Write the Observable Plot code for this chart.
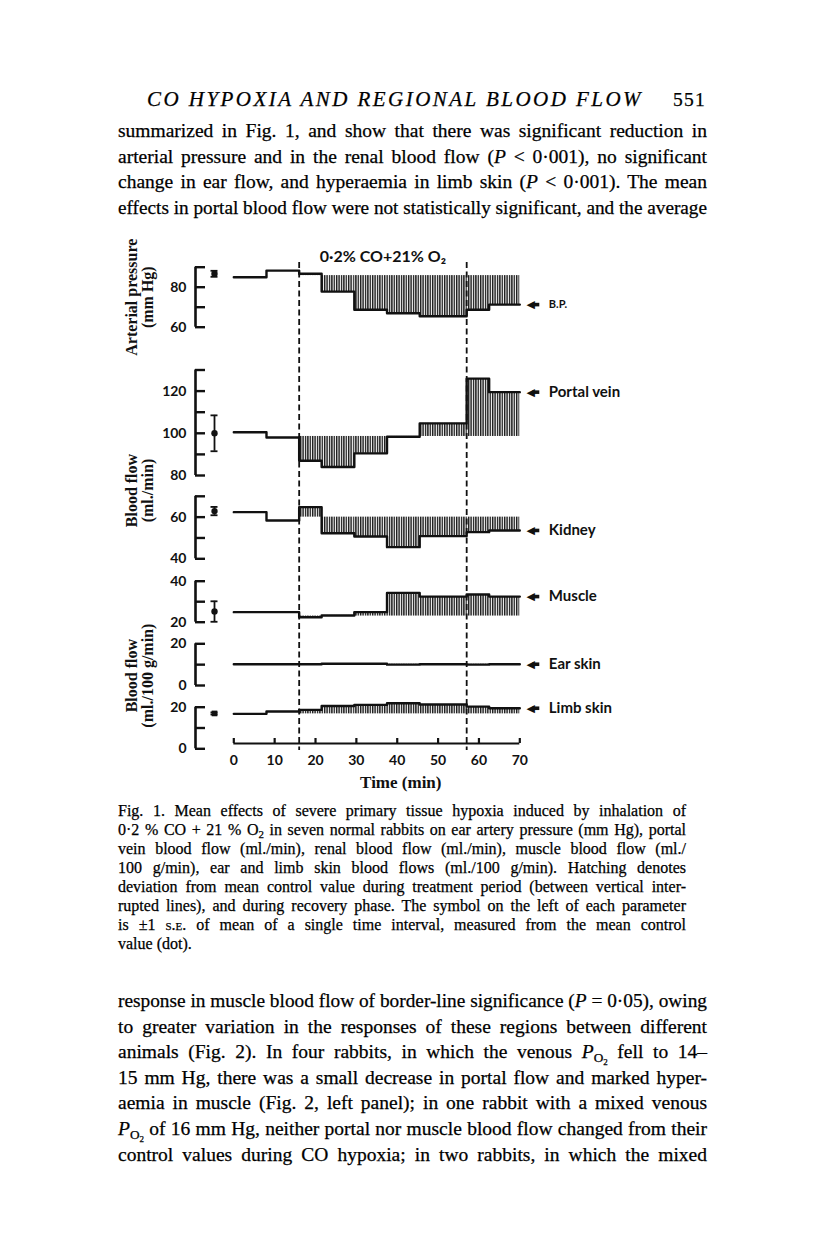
<!DOCTYPE html>
<html><head><meta charset="utf-8">
<script src="https://cdn.jsdelivr.net/npm/d3@7"></script>
<script src="https://cdn.jsdelivr.net/npm/@observablehq/plot@0.6"></script>
<style>
html,body{margin:0;padding:0;background:#fff;}
body{width:816px;height:1249px;position:relative;overflow:hidden;}
.ln{position:absolute;white-space:nowrap;font-family:"Liberation Serif",serif;color:#000;-webkit-text-stroke:0.25px #000;}
.body{font-size:19.5px;line-height:26px;height:26px;}
.cap{font-size:16px;line-height:19px;height:19px;}
.ln sub{font-size:0.68em;vertical-align:-0.28em;line-height:0;}
#chart{position:absolute;left:0;top:0;width:816px;height:800px;}
#chart svg{position:absolute;left:0;top:0;}
</style></head>
<body>
<svg width="0" height="0" style="position:absolute"><defs>
<pattern id="hatch" patternUnits="userSpaceOnUse" width="2.4" height="6"><rect x="0" y="0" width="1.4" height="6" fill="#1a1a1a"/></pattern>
</defs></svg>

<div class="ln body" data-w="496" data-mode="letter" style="left:147px;top:86px;font-size:21px"><span style="font-style:italic">CO HYPOXIA AND REGIONAL BLOOD FLOW</span></div>
<div class="ln body" data-w="33" data-mode="letter" style="left:673px;top:87px"><span>551</span></div>

<div class="ln body" data-w="589" style="left:118px;top:118px"><span>summarized in Fig. 1, and show that there was significant reduction in</span></div>
<div class="ln body" data-w="589" style="left:118px;top:144px"><span>arterial pressure and in the renal blood flow (<i>P</i> &lt; 0·001), no significant</span></div>
<div class="ln body" data-w="589" style="left:118px;top:169px"><span>change in ear flow, and hyperaemia in limb skin (<i>P</i> &lt; 0·001). The mean</span></div>
<div class="ln body" data-w="589" style="left:118px;top:195px"><span>effects in portal blood flow were not statistically significant, and the average</span></div>

<div id="chart"></div>

<div class="ln cap" data-w="568" style="left:118px;top:800.5px"><span>Fig. 1. Mean effects of severe primary tissue hypoxia induced by inhalation of</span></div>
<div class="ln cap" data-w="568" style="left:118px;top:819.6px"><span>0·2 % CO + 21 % O<sub>2</sub> in seven normal rabbits on ear artery pressure (mm Hg), portal</span></div>
<div class="ln cap" data-w="568" style="left:118px;top:838.7px"><span>vein blood flow (ml./min), renal blood flow (ml./min), muscle blood flow (ml./</span></div>
<div class="ln cap" data-w="568" style="left:118px;top:857.8px"><span>100 g/min), ear and limb skin blood flows (ml./100 g/min). Hatching denotes</span></div>
<div class="ln cap" data-w="568" style="left:118px;top:876.9px"><span>deviation from mean control value during treatment period (between vertical inter-</span></div>
<div class="ln cap" data-w="568" style="left:118px;top:896px"><span>rupted lines), and during recovery phase. The symbol on the left of each parameter</span></div>
<div class="ln cap" data-w="568" style="left:118px;top:915.1px"><span>is ±1 <span style="font-variant:small-caps">s.e.</span> of mean of a single time interval, measured from the mean control</span></div>
<div class="ln cap" style="left:118px;top:934.2px"><span>value (dot).</span></div>

<div class="ln body" data-w="589" style="left:118px;top:988px"><span>response in muscle blood flow of border-line significance (<i>P</i> = 0·05), owing</span></div>
<div class="ln body" data-w="589" style="left:118px;top:1014px"><span>to greater variation in the responses of these regions between different</span></div>
<div class="ln body" data-w="589" style="left:118px;top:1039px"><span>animals (Fig. 2). In four rabbits, in which the venous <i>P</i><sub>O<sub>2</sub></sub> fell to 14–</span></div>
<div class="ln body" data-w="589" style="left:118px;top:1065px"><span>15 mm Hg, there was a small decrease in portal flow and marked hyper-</span></div>
<div class="ln body" data-w="589" style="left:118px;top:1090px"><span>aemia in muscle (Fig. 2, left panel); in one rabbit with a mixed venous</span></div>
<div class="ln body" data-w="589" style="left:118px;top:1116px"><span><i>P</i><sub>O<sub>2</sub></sub> of 16 mm Hg, neither portal nor muscle blood flow changed from their</span></div>
<div class="ln body" data-w="589" style="left:118px;top:1142px"><span>control values during CO hypoxia; in two rabbits, in which the mixed</span></div>

<script>
// ---------------- data ----------------
const intervalStart = [0, 8, 16, 21.5, 29.5, 37.5, 45.5, 57, 62.5]; // min
const timeEnd = 70;
const treatment = [16, 57];              // start / end of CO inhalation (min)
const xTicks = [0, 10, 20, 30, 40, 50, 60, 70];
const xLabel = "Time (min)";
const title = "0·2% CO+21% O₂";

const bp     = [85, 88.3, 86.7, 77.8, 68.7, 67, 65.5, 68.7, 71.3];
const portal = [100.5, 98, 87, 84, 90.5, 98.4, 104.7, 125.9, 119.5];
const kidney = [62.4, 58.4, 64.8, 52.3, 50.7, 45.6, 50.9, 52.8, 53.6];
const muscle = [24.9, 24.9, 22.4, 23.3, 24.9, 34.3, 32.5, 33.5, 32.5];
const ear    = [10.2, 10.2, 10.2, 10.4, 10.4, 10.0, 10.2, 10.0, 10.2];
const limb   = [16.8, 17.9, 18.7, 20.6, 21.1, 21.9, 21.3, 20.3, 19.5];

const seriesNames   = ["B.P.", "Portal vein", "Kidney", "Muscle", "Ear skin", "Limb skin"];
const controlMean   = [85.8, 98.5, 60, 23, 10.2, 16.8];   // hatching baseline
const seMean        = [86.7, 100, 62.9, 25.2, null, 17];  // dot
const seValue       = [1.5, 8.5, 2, 5, null, 0.5];        // ±1 S.E.

const bpTicks = [60, 70, 80, 90],            bpTickLabels = [60, 80];
const portalTicks = [80, 90, 100, 110, 120, 130], portalTickLabels = [80, 100, 120];
const kidneyTicks = [40, 50, 60, 70],         kidneyTickLabels = [40, 60];
const muscleTicks = [20, 30, 40],             muscleTickLabels = [20, 40];
const earTicks = [0, 10, 20],                 earTickLabels = [0, 20];
const limbTicks = [0, 10, 20],                limbTickLabels = [0, 20];

const yLabels = ["Arterial pressure\n(mm Hg)", "Blood flow\n(ml./min)", "Blood flow\n(ml./100 g/min)"];

// ---------------- layout ----------------
const W = 816, H = 800, X0 = 233.3, X70 = 519.3, AXIS_X = 195, SE_X = 214;
const panels = [
  {values: bp,     ticks: bpTicks,     labels: bpTickLabels,     top: 266.7, bottom: 326.7, yLabel: 0, yLabelDy: 0},
  {values: portal, ticks: portalTicks, labels: portalTickLabels, top: 369.5, bottom: 475},
  {values: kidney, ticks: kidneyTicks, labels: kidneyTickLabels, top: 495.8, bottom: 558.3, yLabel: 1, yLabelDy: -37},
  {values: muscle, ticks: muscleTicks, labels: muscleTickLabels, top: 580.7, bottom: 621.7},
  {values: ear,    ticks: earTicks,    labels: earTickLabels,    top: 643.3, bottom: 685, yLabel: 2, yLabelDy: 11},
  {values: limb,   ticks: limbTicks,   labels: limbTickLabels,   top: 706.7, bottom: 748.3}
];

const chart = document.getElementById("chart");
const tickFont = {fontFamily: "Lato, 'Open Sans', sans-serif", fontWeight: "bold", fontSize: 14};

panels.forEach((p, k) => {
  const rows = intervalStart.map((t0, i) => ({t0, t1: intervalStart[i + 1] ?? timeEnd, v: p.values[i]}));
  const pts = rows.map(r => ({t: r.t0, v: r.v})).concat([{t: timeEnd, v: p.values[p.values.length - 1]}]);
  const hatched = rows.filter(r => r.t0 >= treatment[0]);
  const lo = p.ticks[0], hi = p.ticks[p.ticks.length - 1];
  const last = [{t: timeEnd, v: p.values[p.values.length - 1], name: seriesNames[k]}];
  const marks = [
    Plot.rectY(hatched, {x1: "t0", x2: "t1", y1: controlMean[k], y2: "v", fill: "url(#hatch)"}),
    Plot.line(pts, {x: "t", y: "v", curve: "step-after", stroke: "#111", strokeWidth: 2.4}),
    Plot.ruleX([0], {y1: lo, y2: hi, dx: AXIS_X - X0, stroke: "#111", strokeWidth: 2.6}),
    Plot.axisY(p.ticks, {anchor: "left", tickSize: -10, tickPadding: 19, stroke: "#111", strokeWidth: 2.4,
      tickFormat: d => p.labels.includes(d) ? String(d) : "", label: null, fill: "#111", ...tickFont}),
    // arrow pointing at the series end: head + thick stem
    Plot.text(last, {x: "t", y: "v", text: () => "◀", dx: 11, fontSize: 11, fontFamily: "DejaVu Sans", fill: "#111"}),
    Plot.ruleY(last, {x1: "t", x2: "t", y: "v", dx: 16.5, insetLeft: -3.5, insetRight: -3.5, stroke: "#111", strokeWidth: 3.6}),
    Plot.text(last, {x: "t", y: "v", text: "name", dx: 29, textAnchor: "start", fill: "#111",
      fontFamily: "Lato, 'Open Sans', sans-serif", fontWeight: "bold", fontSize: k === 0 ? 11 : 15})
  ];
  if (seMean[k] != null) {
    const m = seMean[k], s = seValue[k];
    marks.push(
      Plot.ruleX([0], {y1: m - s, y2: m + s, dx: SE_X - X0, stroke: "#111", strokeWidth: 1.8}),
      Plot.ruleY([m - s, m + s], {x1: 0, x2: 0, dx: SE_X - X0, insetLeft: -3.5, insetRight: -3.5, stroke: "#111", strokeWidth: 1.8}),
      Plot.dot([m], {x: 0, y: d => d, dx: SE_X - X0, r: 3.2, fill: "#111", symbol: k === 5 ? "square" : "circle"})
    );
  }
  if (p.yLabel != null) {
    marks.push(Plot.text([yLabels[p.yLabel]], {frameAnchor: "left", textAnchor: "middle", text: d => d, rotate: -90, dx: -56, dy: p.yLabelDy,
      fontFamily: "'Liberation Serif', serif", fontWeight: "bold", fontSize: 16, lineHeight: 1.02, fill: "#111"}));
  }
  const svg = Plot.plot({
    width: W, height: H,
    marginLeft: AXIS_X, marginRight: 0, marginTop: p.top, marginBottom: H - p.bottom,
    x: {domain: [0, 70], range: [X0, X70], axis: null},
    y: {domain: [lo, hi], axis: null},
    style: {background: "transparent", overflow: "visible", maxWidth: "none"},
    marks
  });
  chart.appendChild(svg);
});

// time axis, treatment lines, title
const timeSvg = Plot.plot({
  width: W, height: H,
  marginLeft: AXIS_X, marginRight: 0, marginTop: 262, marginBottom: H - 743,
  x: {domain: [0, 70], range: [X0, X70]},
  y: {domain: [0, 1], axis: null},
  style: {background: "transparent", overflow: "visible", maxWidth: "none"},
  marks: [
    Plot.ruleX(treatment, {stroke: "#111", strokeWidth: 1.8, strokeDasharray: "6,3.5", insetBottom: -7}),
    Plot.ruleY([0], {x1: xTicks[0], x2: xTicks[xTicks.length - 1], stroke: "#111", strokeWidth: 2.2}),
    Plot.axisX(xTicks, {anchor: "bottom", tickSize: -5, tickPadding: 17, stroke: "#111", strokeWidth: 2.2, label: null, fill: "#111", ...tickFont}),
    Plot.text([xLabel], {x: (xTicks[0] + xTicks[xTicks.length - 1]) / 2, frameAnchor: "bottom", dy: 44, dx: 24, text: d => d,
      fontFamily: "'Liberation Serif', serif", fontWeight: "bold", fontSize: 17, fill: "#111"}),
    Plot.text([title], {x: (treatment[0] + treatment[1]) / 2, frameAnchor: "top", dy: -12, text: d => d,
      fontFamily: "Lato, 'Open Sans', 'DejaVu Sans', sans-serif", fontWeight: "bold", fontSize: 16, fill: "#111"})
  ]
});
chart.appendChild(timeSvg);

// ---------------- justify page text lines ----------------
function fit() {
  document.querySelectorAll(".ln").forEach(el => {
    const w = +el.dataset.w; if (!w) return;
    const s = el.firstElementChild;
    s.style.wordSpacing = ""; s.style.letterSpacing = ""; s.style.transform = ""; s.style.display = "inline";
    const nat = s.getBoundingClientRect().width;
    if (nat > w) {
      s.style.display = "inline-block"; s.style.transformOrigin = "0 0"; s.style.transform = `scaleX(${w / nat})`;
    } else if (el.dataset.mode === "letter") {
      const n = s.textContent.length;
      s.style.letterSpacing = ((w - nat) / n) + "px";
    } else {
      const n = (s.textContent.match(/ /g) || []).length;
      if (n) s.style.wordSpacing = ((w - nat) / n) + "px";
    }
  });
}
fit();
if (document.fonts && document.fonts.ready) document.fonts.ready.then(fit);
</script>
</body></html>
